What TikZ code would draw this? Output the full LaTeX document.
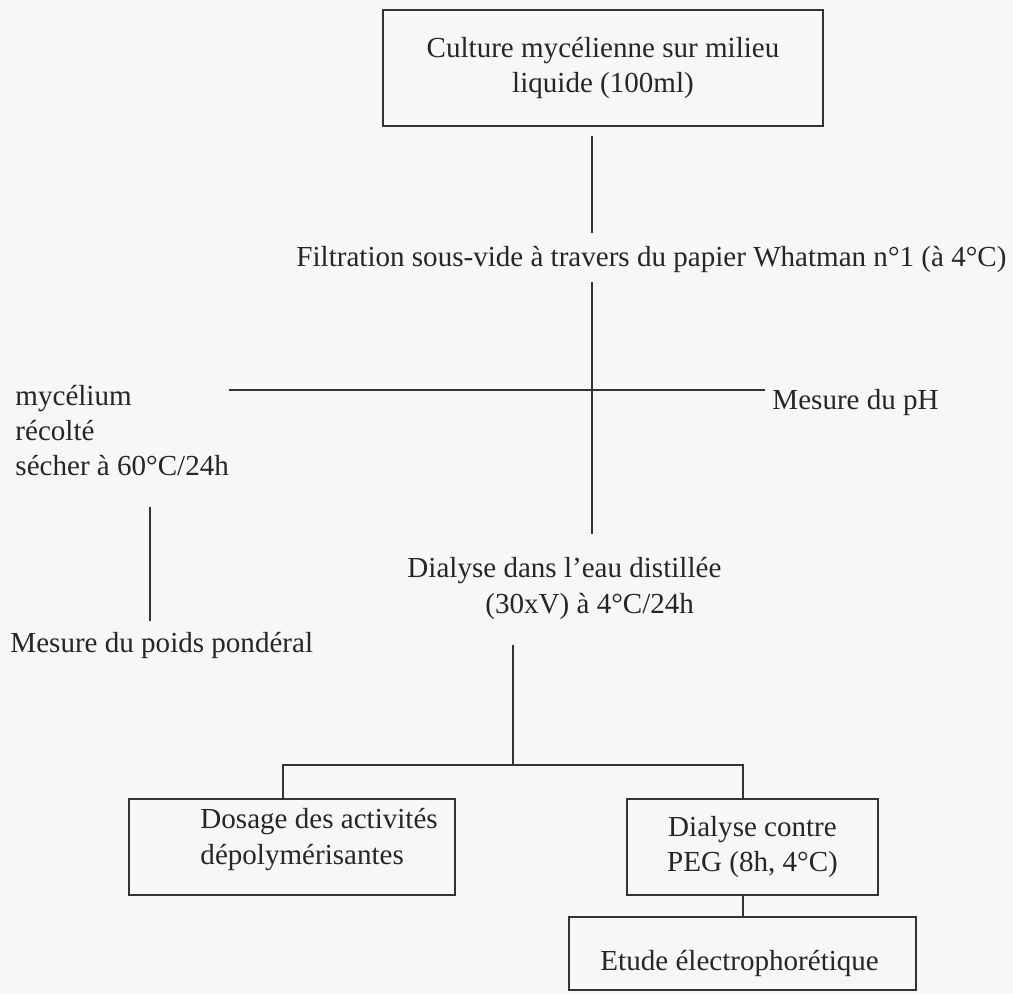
\documentclass[tikz,border=0pt]{standalone}
\usepackage{fontspec}
\setmainfont{Liberation Serif}
\usepackage{tikz}
\usetikzlibrary{positioning,calc}
\newcommand\mainsz{\fontsize{12pt}{14.5pt}\selectfont}

\begin{document}
\begin{tikzpicture}[
    x=0.413pt, y=-0.413pt,
    box/.style={draw=black!80, line width=0.8pt, inner sep=0pt,
                font=\mainsz, text=black!85, align=center},
    txt/.style={font=\mainsz, text=black!85, inner sep=0pt,
                anchor=base west, align=left},
    lnk/.style={draw=black!80, line width=0.8pt},
  ]
  \useasboundingbox (0,0) rectangle (1013,994);
  \fill[black!3] (0,0) rectangle (1013,994);

  % culture et filtration
  \node[box, minimum width=181.7pt, minimum height=47.9pt] (culture) at (603,68)
    {Culture mycélienne sur milieu\\liquide (100ml)};
  \node[txt] (filtre) at (296,267)
    {Filtration sous-vide à travers du papier Whatman n°1 (à 4°C)};
  \coordinate (cross) at (592,390);
  \draw[lnk, shorten <=3.7pt, shorten >=5.4pt] (culture.south -| cross) -- (filtre.north -| cross);

  % mycelium / filtrat
  \node[txt] (myc) at (15,476) {mycélium\\récolté\\sécher à 60°C/24h};
  \node[txt] (ph) at (772,410) {Mesure du pH};
  \node[txt] (poids) at (10,652) {Mesure du poids pondéral};
  \coordinate (drop) at (150,560);
  \draw[lnk] (myc.east |- cross) -- (cross);
  \draw[lnk, shorten >=2.9pt] (cross) -- (ph.west |- cross);
  \draw[lnk, shorten <=12.4pt, shorten >=4.1pt] (myc.south -| drop) -- (poids.north -| drop);

  % dialyse
  \node[txt] (dial) at (407,613)
    {Dialyse dans l’eau distillée\\\hspace*{32.2pt}(30xV) à 4°C/24h};
  \draw[lnk, shorten <=3.6pt, shorten >=9.5pt] (filtre.south -| cross) -- (dial.north -| cross);

  % deux branches
  \coordinate (split) at (513,765);
  \coordinate (bl) at (283,765);
  \coordinate (br) at (743,765);
  \node[box, minimum width=134.6pt, minimum height=39.6pt] (dosage) at (292,847) {};
  \node[txt] (dosagetxt) at (200,864) {Dosage des activités\\dépolymérisantes};
  \node[box, minimum width=103.7pt, minimum height=39.6pt] (peg) at (752.5,847)
    {Dialyse contre\\PEG (8h, 4°C)};
  \node[box, minimum width=143.3pt, minimum height=30.1pt] (etude) at (742.5,953.5) {};
  \node[txt] (etudetxt) at (600,970) {Etude électrophorétique};

  \draw[lnk, shorten <=10.3pt] (dial.south -| split) -- (split);
  \draw[lnk] (dosage.north -| bl) -- (bl) -- (br) -- (peg.north -| br);
  \draw[lnk] (peg.south -| br) -- (etude.north -| br);
\end{tikzpicture}
\end{document}
